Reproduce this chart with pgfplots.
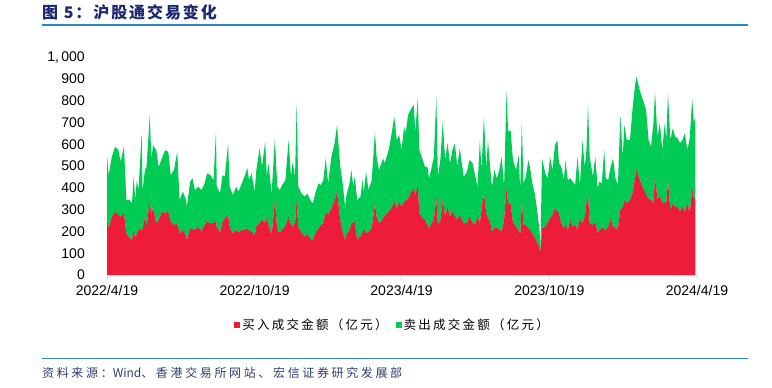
\documentclass[border=0pt]{standalone}
\usepackage{pgfplots}
\pgfplotsset{compat=1.18}
\usepackage{pgfplotstable}
\usepackage{fontspec}
\setmainfont{Liberation Sans}
\newfontfamily\cjktitle[LetterSpace=12]{Noto Sans CJK SC}
\newfontfamily\cjkleg[LetterSpace=18]{Noto Sans CJK SC}
\newfontfamily\cjksrc[LetterSpace=22]{Noto Sans CJK SC}
\newfontfamily\cjkplain{Noto Sans CJK SC}
\definecolor{redc}{HTML}{EC1C3A}
\definecolor{greenc}{HTML}{00CC55}
\definecolor{titlec}{HTML}{1D2671}
\definecolor{linec}{HTML}{2E86C9}
\definecolor{srcc}{HTML}{2F3D6B}
\definecolor{axisc}{HTML}{D9D9D9}

\pgfplotstableread{
day buy sell
0 260 291
2 214 245
6 268 275
10 291 298
14 276 298
17 268 252
21 283 309
24 191 153
28 170 174
31 161 169
33 207 245
35 169 175
37 190 246
39 207 183
43 207 445
44 210 180
47 268 214
49 222 275
53 344 391
55 268 260
57 314 283
61 237 337
64 253 244
68 291 245
72 283 291
76 291 275
79 245 214
83 230 252
87 237 329
90 190 154
94 207 176
98 180 164
99 161 153
103 214 215
106 210 234
109 207 183
113 222 184
117 199 191
121 230 191
124 245 222
128 237 222
132 240 196
135 245 413
136 220 186
140 195 181
143 240 219
146 260 192
150 276 329
152 222 184
156 190 177
160 207 199
163 195 188
167 207 214
171 210 249
174 214 276
176 205 231
179 199 268
183 184 199
185 222 260
189 237 345
192 253 244
196 240 372
198 268 184
200 230 283
204 184 191
208 344 284
211 207 199
214 191 199
217 210 203
221 225 211
225 268 352
228 230 222
230 222 298
233 237 215
235 344 445
237 220 186
241 195 180
245 175 185
248 190 185
252 165 179
255 160 169
258 191 184
262 214 207
265 230 183
268 237 199
271 291 245
274 276 145
278 306 237
282 344 261
285 383 306
289 253 244
292 199 222
295 161 153
297 190 185
300 200 213
303 237 245
305 240 166
307 245 207
310 161 183
314 176 184
317 200 244
318 214 161
321 191 283
324 199 191
328 214 222
332 329 329
334 268 275
337 237 245
342 260 276
344 270 243
349 290 284
353 310 348
356 337 390
359 306 314
362 337 306
365 314 260
368 337 344
370 340 311
373 350 385
376 375 383
380 398 383
382 367 291
385 413 398
387 283 291
390 268 275
394 253 244
397 230 267
399 214 230
402 237 253
405 253 290
408 360 459
410 230 222
413 250 278
416 344 360
419 268 260
422 314 291
425 268 245
428 291 283
431 270 335
434 253 244
437 276 306
442 237 215
446 240 234
449 268 260
453 240 273
456 230 229
459 268 138
462 237 383
464 300 182
467 375 352
470 283 207
472 265 355
475 240 242
477 199 207
480 215 267
483 218 226
486 210 272
489 199 344
492 253 153
495 398 444
497 329 329
500 329 337
503 240 288
507 222 260
510 200 351
512 191 199
514 344 360
516 230 191
519 230 222
522 215 313
524 207 290
527 190 231
530 172 203
533 150 148
536 125 75
537 105 10
539 214 322
543 222 245
546 240 204
549 262 281
552 276 206
555 306 291
558 290 330
560 283 230
563 237 260
566 214 222
568 230 298
571 207 229
574 253 191
577 222 207
580 230 183
583 207 336
586 260 153
589 237 383
592 268 229
594 330 244
596 375 406
598 237 306
602 230 222
605 245 298
608 191 207
610 205 224
613 218 203
616 210 364
618 207 237
621 222 214
624 260 237
627 222 314
630 214 230
633 214 199
636 300 435
639 314 229
641 344 345
644 329 291
648 344 276
651 375 383
654 440 425
656 482 429
660 440 410
664 400 404
668 370 388
671 350 270
674 344 245
677 329 368
679 452 390
682 350 285
685 360 337
688 335 239
691 330 367
693 337 283
695 436 399
698 298 322
701 329 345
704 314 321
707 314 314
710 291 314
713 314 306
716 291 360
719 329 245
722 283 345
725 398 413
727 360 344
729 344 376
}\data

\begin{document}
\begin{tikzpicture}[x=1pt,y=1pt]
\path[use as bounding box] (0,0) rectangle (772,388);
\node[anchor=west, text=titlec, font=\cjktitle\bfseries\fontsize{16}{16}\selectfont, inner sep=0] at (42,376) {图 5：沪股通交易变化};
\draw[linec, line width=1.5pt] (42,363) -- (748,363);
\draw[linec, line width=1.5pt] (42,29.5) -- (748,29.5);
\node[anchor=west, text=srcc, font=\cjksrc\fontsize{12}{12}\selectfont, inner sep=0] at (42,15) {资料来源：{\cjkplain Wind}、香港交易所网站、宏信证券研究发展部};
\begin{axis}[
  at={(107pt,113pt)}, anchor=south west,
  scale only axis, width=590pt, height=217.7pt,
  xmin=0, xmax=731, ymin=0, ymax=1000,
  stack plots=y,
  axis x line*=bottom, axis y line*=left,
  x axis line style={draw=axisc, line width=0.8pt},
  y axis line style={draw=none},
  xtick={0,183,365,548,731},
  xticklabels={2022/4/19,2022/10/19,2023/4/19,2023/10/19,2024/4/19},
  ytick={0,100,...,1000},
  yticklabels={0,100,200,300,400,500,600,700,800,900,{1,\,000}},
  xtick style={draw=axisc, line width=0.8pt},
  ytick style={draw=none},
  tick align=outside, major tick length=4pt,
  xticklabel style={font=\fontsize{14}{14}\selectfont, inner sep=0pt, anchor=north, yshift=-6pt},
  yticklabel style={font=\fontsize{14}{14}\selectfont, inner sep=0pt, anchor=east, xshift=-18pt},
  legend style={draw=none, fill=none, at={(0.484,-0.23)}, anchor=center,
    legend columns=2, font=\cjkleg\fontsize{12.5}{12.5}\selectfont,
    /tikz/every even column/.append style={column sep=6pt},
    nodes={inner sep=2pt}},
  legend image code/.code={\fill[#1] (0pt,-3pt) rectangle (6pt,3pt);},
]
\addplot[fill=redc, draw=none] table[x=day, y=buy]{\data} \closedcycle;
\addlegendentry{买入成交金额（亿元）}
\addplot[fill=greenc, draw=none] table[x=day, y=sell]{\data} \closedcycle;
\addlegendentry{卖出成交金额（亿元）}
\end{axis}
\end{tikzpicture}
\end{document}
